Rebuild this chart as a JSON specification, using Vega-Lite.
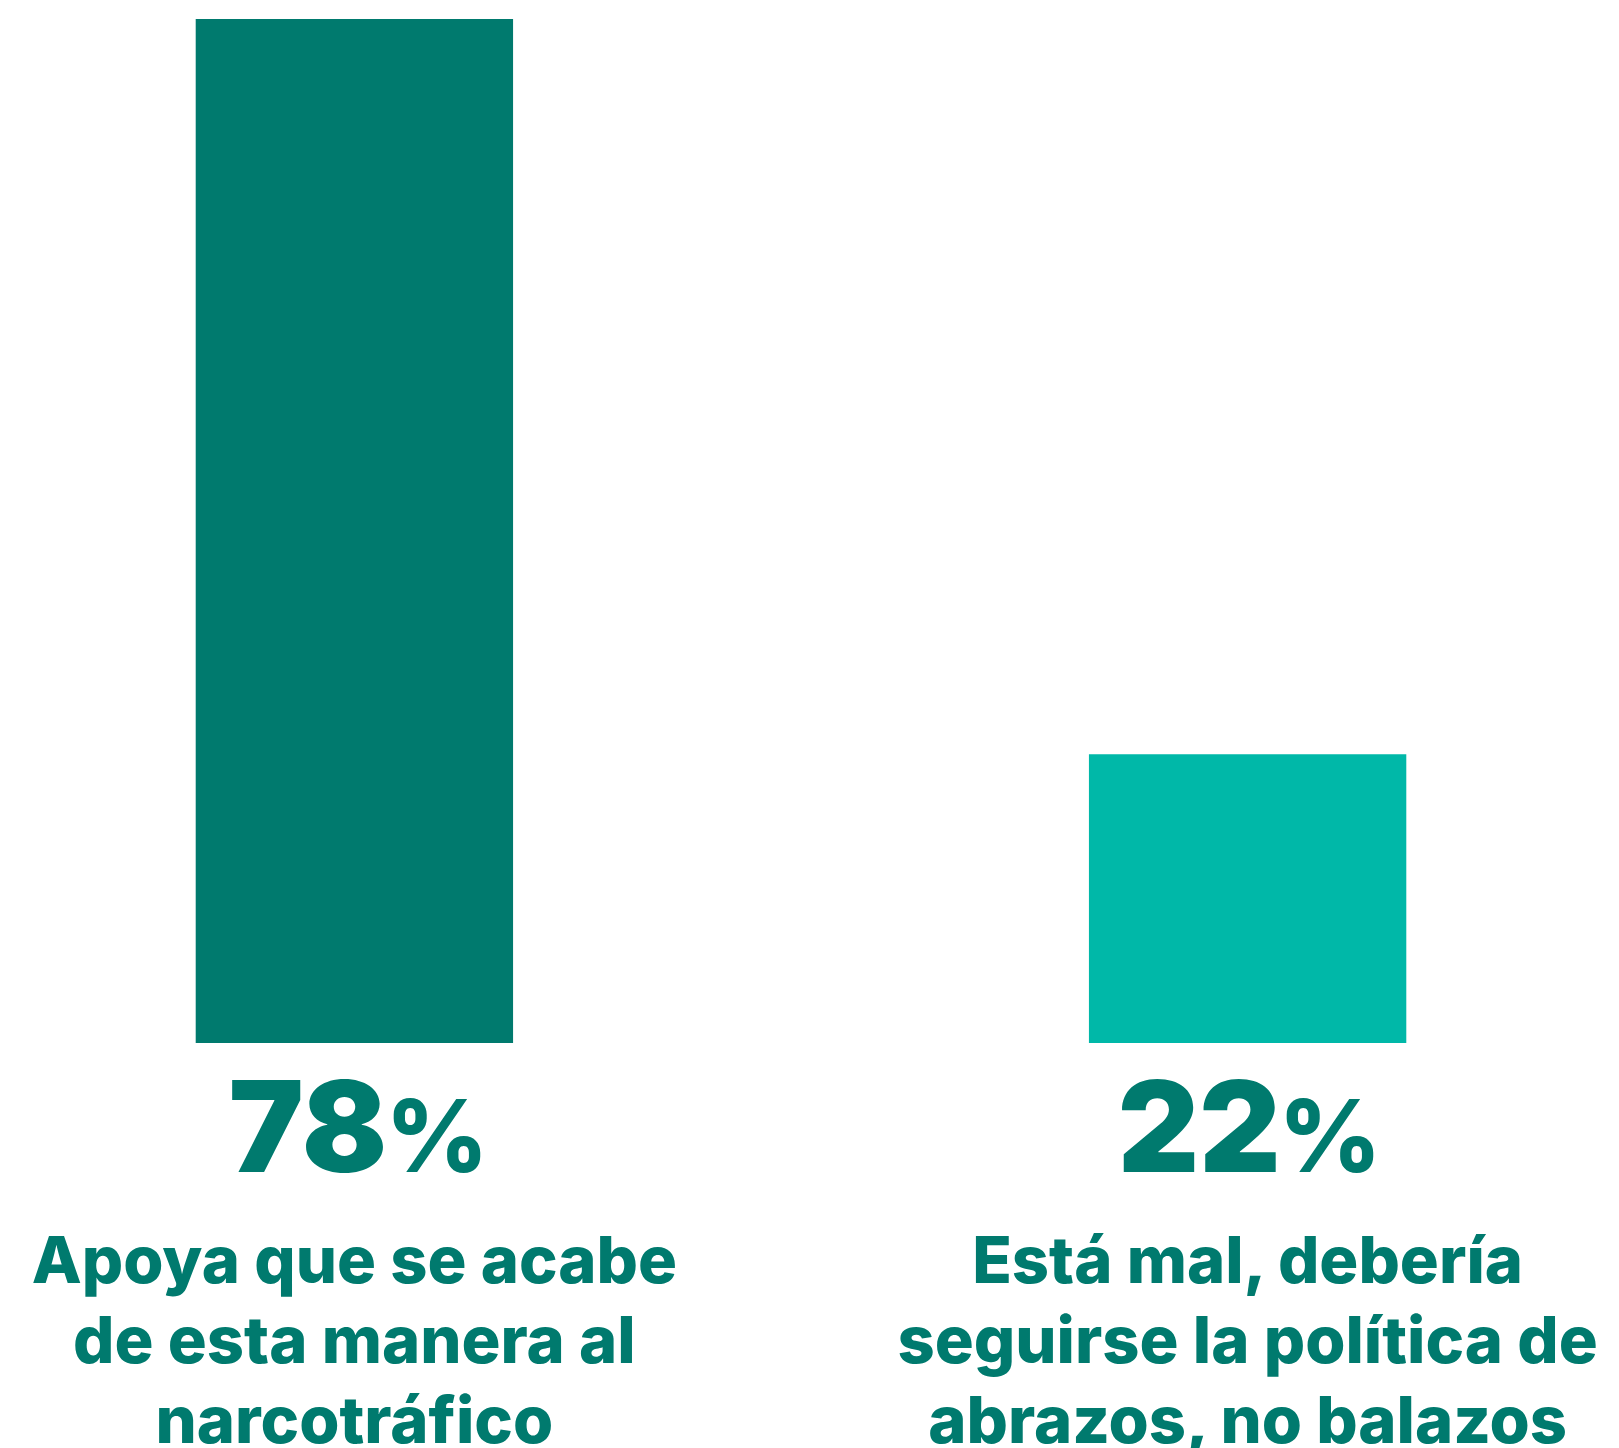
{
  "$schema": "https://vega.github.io/schema/vega-lite/v6.json",
  "width": 1602,
  "height": 1024,
  "autosize": {"type": "none"},
  "padding": {"left": 0, "top": 19, "right": 17, "bottom": 405},
  "background": "white",
  "config": {"view": {"stroke": null}},
  "data": {
    "values": [
      {"cat": "a", "value": 78, "num": "78", "pct": "%", "label": ["Apoya que se acabe", "de esta manera al", "narcotráfico"]},
      {"cat": "b", "value": 22, "num": "22", "pct": "%", "label": ["Está mal, debería", "seguirse la política de", "abrazos, no balazos"]}
    ]
  },
  "encoding": {
    "x": {"field": "cat", "type": "nominal", "axis": null, "sort": ["a", "b"],
          "scale": {"paddingInner": 0.6447, "paddingOuter": 0.2191}}
  },
  "layer": [
    {
      "mark": {"type": "bar"},
      "encoding": {
        "y": {"field": "value", "type": "quantitative", "axis": null, "scale": {"domain": [0, 78], "nice": false}},
        "color": {"field": "cat", "type": "nominal", "legend": null,
                  "scale": {"domain": ["a", "b"], "range": ["#007A6E", "#00B8A8"]}}
      }
    },
    {
      "mark": {"type": "text", "align": "right", "baseline": "alphabetic", "dx": 33, "dy": 129,
               "font": "Inter", "fontWeight": 900, "fontSize": 126, "color": "#007A6E"},
      "encoding": {
        "y": {"datum": 0, "type": "quantitative"},
        "text": {"field": "num"}
      }
    },
    {
      "mark": {"type": "text", "align": "left", "baseline": "alphabetic", "dx": 31, "dy": 129,
               "font": "Inter", "fontWeight": 800, "fontSize": 100, "color": "#007A6E"},
      "encoding": {
        "y": {"datum": 0, "type": "quantitative"},
        "text": {"field": "pct"}
      }
    },
    {
      "mark": {"type": "text", "align": "center", "baseline": "alphabetic", "dy": 240, "lineHeight": 80,
               "font": "Inter", "fontWeight": 800, "fontSize": 65, "color": "#007A6E"},
      "encoding": {
        "y": {"datum": 0, "type": "quantitative"},
        "text": {"field": "label"}
      }
    }
  ]
}
